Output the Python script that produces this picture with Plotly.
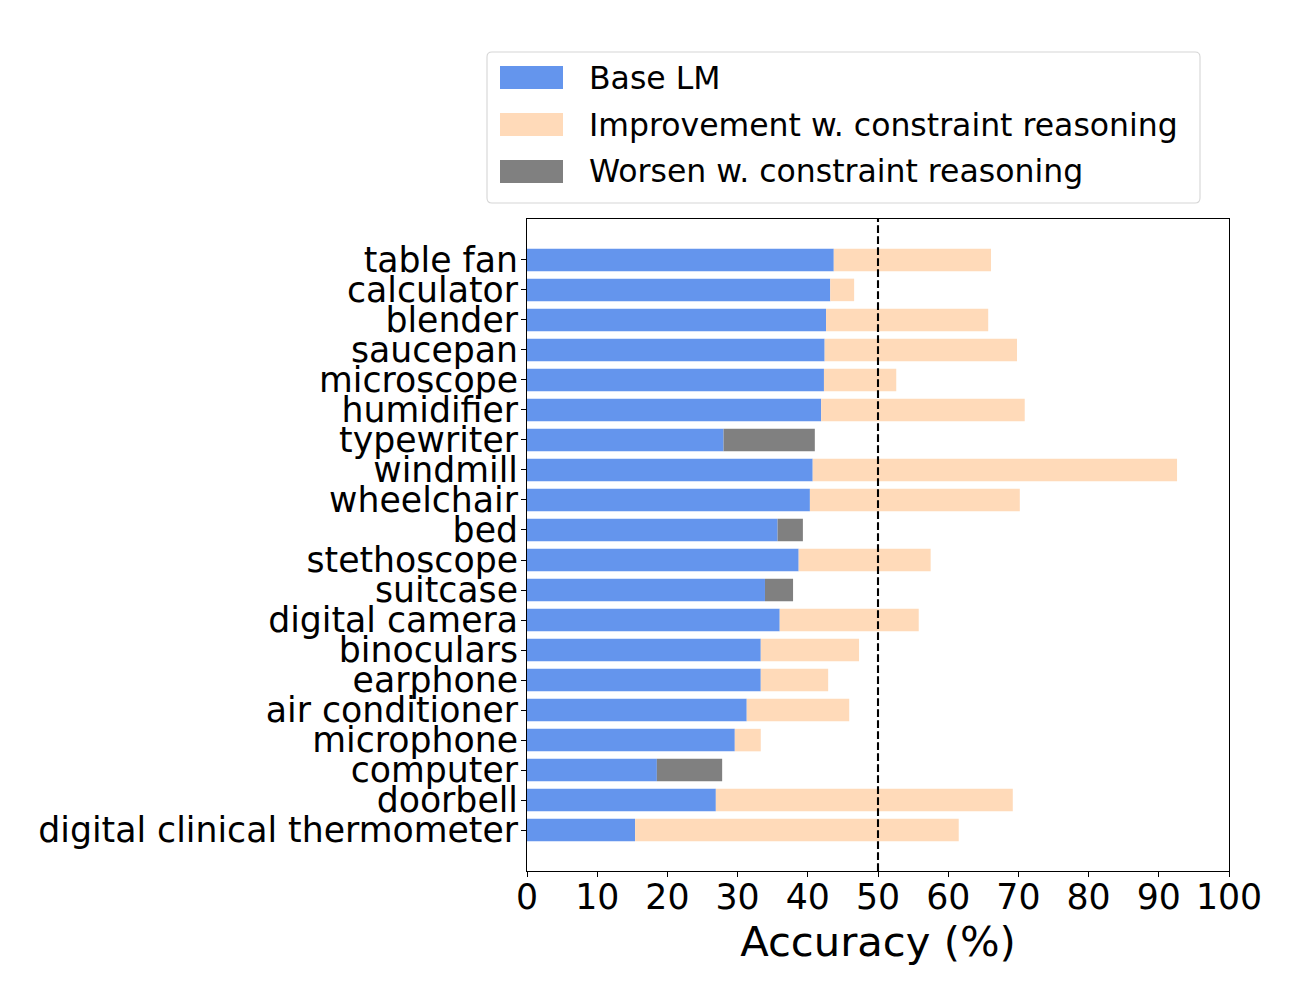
import plotly.graph_objects as go

# ---- data ----
categories = [
    "table fan", "calculator", "blender", "saucepan", "microscope",
    "humidifier", "typewriter", "windmill", "wheelchair", "bed",
    "stethoscope", "suitcase", "digital camera", "binoculars", "earphone",
    "air conditioner", "microphone", "computer", "doorbell",
    "digital clinical thermometer",
]
base_lm = [43.7, 43.2, 42.6, 42.4, 42.3, 41.9, 28.0, 40.7, 40.3, 35.7,
           38.7, 33.9, 36.0, 33.3, 33.3, 31.3, 29.6, 18.5, 26.9, 15.4]
improvement = [22.4, 3.4, 23.1, 27.4, 10.3, 29.0, 0.0, 51.9, 29.9, 0.0,
               18.8, 0.0, 19.8, 14.0, 9.6, 14.6, 3.7, 0.0, 42.3, 46.1]
worsen = [0.0, 0.0, 0.0, 0.0, 0.0, 0.0, 13.0, 0.0, 0.0, 3.6,
          0.0, 4.0, 0.0, 0.0, 0.0, 0.0, 0.0, 9.3, 0.0, 0.0]
x_ticks = [0, 10, 20, 30, 40, 50, 60, 70, 80, 90, 100]
legend_labels = ["Base LM", "Improvement w. constraint reasoning",
                 "Worsen w. constraint reasoning"]

BLUE = "#6495ED"
PEACH = "#FFDAB9"
GRAY = "#808080"
FONT = "DejaVu Sans"

OFF = 8  # page body offset of the figure
W, H = 1292, 992
ML, MR, MT, MB = 519, 71, 211, 129
PW, PH = W - ML - MR, H - MT - MB


def px_x(p):
    return (p - OFF - ML) / PW


def px_y(p):
    return (H + OFF - MB - p) / PH


fig = go.Figure()
fig.add_trace(go.Bar(y=categories, x=base_lm, base=0, orientation="h",
                     marker=dict(color=BLUE, line=dict(width=0)),
                     width=0.75, name=legend_labels[0], showlegend=False))
fig.add_trace(go.Bar(y=categories, x=improvement, base=base_lm, orientation="h",
                     marker=dict(color=PEACH, line=dict(width=0)),
                     width=0.75, name=legend_labels[1], showlegend=False))
fig.add_trace(go.Bar(y=categories, x=worsen, base=base_lm, orientation="h",
                     marker=dict(color=GRAY, line=dict(width=0)),
                     width=0.75, name=legend_labels[2], showlegend=False))

n = len(categories)
pad = 1.3625

fig.update_layout(
    width=W, height=H,
    margin=dict(l=ML, r=MR, t=MT, b=MB, pad=0),
    paper_bgcolor="white", plot_bgcolor="white",
    barmode="overlay",
    font=dict(family=FONT, color="black", size=34.7),
    xaxis=dict(range=[0, 100], tickmode="array", tickvals=x_ticks,
               ticks="outside", ticklen=5, ticklabelstandoff=-10,
               tickwidth=1.1, tickcolor="black", showline=True, mirror=True,
               linecolor="black", linewidth=1.1, showgrid=False, zeroline=False,
               tickfont=dict(size=34.7, family=FONT),
               title=dict(text="Accuracy (%)", font=dict(size=41.7, family=FONT),
                          standoff=8)),
    yaxis=dict(type="category", categoryorder="array", categoryarray=categories,
               tickmode="array", tickvals=categories, ticktext=categories,
               range=[n - 1 + pad, -pad], ticks="outside", ticklen=5,
               ticklabelstandoff=-4,
               tickwidth=1.1, tickcolor="black", showline=True, mirror=True,
               linecolor="black", linewidth=1.1, showgrid=False, zeroline=False,
               tickfont=dict(size=34.7, family=FONT)),
)

# dashed reference line at 50 %
fig.add_shape(type="line", xref="x", yref="paper", x0=50, x1=50, y0=0, y1=1,
              line=dict(color="black", width=2.1, dash="7.7px,3.3px"))

# ---- manual legend (matplotlib style) ----
bx0, bx1, by0, by1 = 487, 1200, 52, 203
r = 5
rx, ry = r / PW, r / PH
X0, X1, Y0, Y1 = px_x(bx0), px_x(bx1), px_y(by1), px_y(by0)
path = (f"M{X0+rx},{Y1} L{X1-rx},{Y1} Q{X1},{Y1} {X1},{Y1-ry} "
        f"L{X1},{Y0+ry} Q{X1},{Y0} {X1-rx},{Y0} L{X0+rx},{Y0} "
        f"Q{X0},{Y0} {X0},{Y0+ry} L{X0},{Y1-ry} Q{X0},{Y1} {X0+rx},{Y1} Z")
fig.add_shape(type="path", xref="paper", yref="paper", path=path,
              fillcolor="rgba(255,255,255,0.8)", line=dict(color="#d6d6d6", width=1.1))

row_centers = [77.5, 124.5, 171.5]
colors = [BLUE, PEACH, GRAY]
for label, col, cy in zip(legend_labels, colors, row_centers):
    fig.add_shape(type="rect", xref="paper", yref="paper",
                  x0=px_x(500), x1=px_x(563), y0=px_y(cy + 11.5), y1=px_y(cy - 11.5),
                  fillcolor=col, line=dict(width=0))
    fig.add_annotation(xref="paper", yref="paper", x=px_x(587), y=px_y(cy),
                       xanchor="left", yanchor="middle", showarrow=False,
                       text=label, font=dict(size=31.5, family=FONT, color="black"))

fig.write_html("out.html")
